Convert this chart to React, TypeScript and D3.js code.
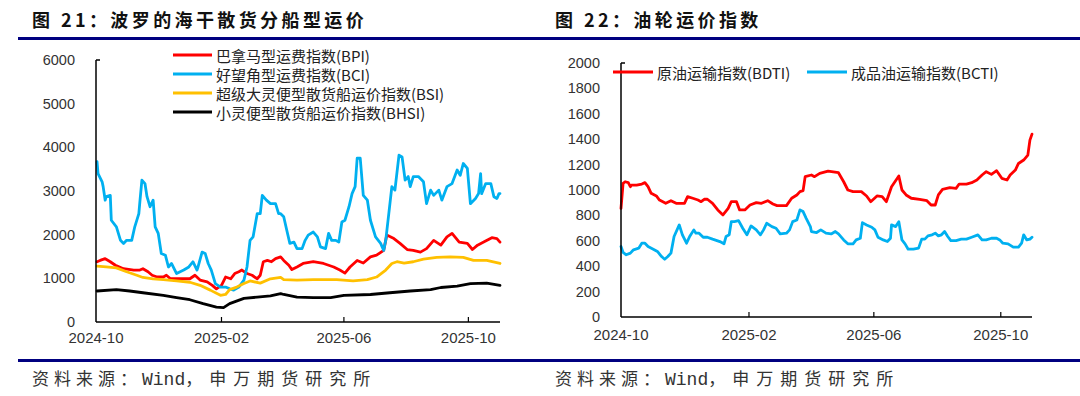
import React from 'react';
import * as d3 from 'd3';

// ---------- Data ----------
const leftYTicks = [0, 1000, 2000, 3000, 4000, 5000, 6000];
const rightYTicks = [0, 200, 400, 600, 800, 1000, 1200, 1400, 1600, 1800, 2000];
const xTickDates = ['2024-10-01', '2025-02-01', '2025-06-01', '2025-10-01'];
const xTickLabels = ['2024-10', '2025-02', '2025-06', '2025-10'];

const leftSeriesNames = ['巴拿马型运费指数(BPI)', '好望角型运费指数(BCI)', '超级大灵便型散货船运价指数(BSI)', '小灵便型散货船运价指数(BHSI)'];
const leftColors = ['#FF0000', '#00B0F0', '#FFC000', '#000000'];
const rightSeriesNames = ['原油运输指数(BDTI)', '成品油运输指数(BCTI)'];
const rightColors = ['#FF0000', '#00B0F0'];

const bpi: [string, number][] = [
  ['2024-10-02', 1380], ['2024-10-05', 1410], ['2024-10-10', 1450], ['2024-10-15', 1380], ['2024-10-20', 1300],
  ['2024-10-28', 1220], ['2024-11-07', 1190], ['2024-11-13', 1190], ['2024-11-16', 1220], ['2024-11-21', 1150],
  ['2024-11-25', 1070], ['2024-11-30', 1030], ['2024-12-06', 1030], ['2024-12-09', 1070], ['2024-12-13', 990],
  ['2024-12-19', 990], ['2025-01-01', 990], ['2025-01-06', 1070], ['2025-01-11', 960], ['2025-01-18', 920],
  ['2025-01-23', 840], ['2025-01-27', 760], ['2025-02-01', 840], ['2025-02-05', 1030], ['2025-02-10', 990],
  ['2025-02-14', 1110], ['2025-02-18', 1150], ['2025-02-21', 1190], ['2025-02-26', 1110], ['2025-03-03', 1070],
  ['2025-03-08', 990], ['2025-03-11', 1070], ['2025-03-14', 1380], ['2025-03-18', 1410], ['2025-03-22', 1380],
  ['2025-03-26', 1450], ['2025-03-31', 1490], ['2025-04-03', 1410], ['2025-04-08', 1300], ['2025-04-11', 1200],
  ['2025-04-16', 1260], ['2025-04-22', 1340], ['2025-05-02', 1380], ['2025-05-12', 1340], ['2025-05-22', 1260],
  ['2025-05-28', 1190], ['2025-06-02', 1120], ['2025-06-07', 1260], ['2025-06-14', 1410], ['2025-06-20', 1350],
  ['2025-06-27', 1490], ['2025-07-03', 1530], ['2025-07-10', 1640], ['2025-07-13', 1990], ['2025-07-20', 1910],
  ['2025-07-26', 1800], ['2025-08-02', 1660], ['2025-08-08', 1640], ['2025-08-15', 1600], ['2025-08-21', 1680],
  ['2025-08-28', 1870], ['2025-09-04', 1760], ['2025-09-10', 1950], ['2025-09-15', 2030], ['2025-09-22', 1830],
  ['2025-09-30', 1800], ['2025-10-05', 1660], ['2025-10-10', 1760], ['2025-10-16', 1830], ['2025-10-24', 1930],
  ['2025-10-29', 1910], ['2025-11-01', 1830],
];

const bci: [string, number][] = [
  ['2024-10-02', 3670], ['2024-10-03', 3400], ['2024-10-07', 3210], ['2024-10-08', 3100], ['2024-10-10', 2790],
  ['2024-10-11', 2870], ['2024-10-15', 2900], ['2024-10-16', 2330], ['2024-10-21', 2180], ['2024-10-25', 1870],
  ['2024-10-28', 1800], ['2024-10-31', 1870], ['2024-11-05', 1870], ['2024-11-08', 2180], ['2024-11-12', 2480],
  ['2024-11-13', 2750], ['2024-11-15', 3250], ['2024-11-18', 3170], ['2024-11-20', 2870], ['2024-11-23', 2640],
  ['2024-11-26', 2790], ['2024-11-28', 2180], ['2024-12-01', 2030], ['2024-12-04', 1570], ['2024-12-08', 1530],
  ['2024-12-11', 1260], ['2024-12-14', 1340], ['2024-12-19', 1110], ['2024-12-26', 1190], ['2024-12-31', 1260],
  ['2025-01-04', 1380], ['2025-01-08', 1190], ['2025-01-09', 1260], ['2025-01-13', 1600], ['2025-01-16', 1570],
  ['2025-01-19', 1340], ['2025-01-22', 1190], ['2025-01-26', 880], ['2025-01-31', 800], ['2025-02-05', 800],
  ['2025-02-09', 760], ['2025-02-13', 730], ['2025-02-18', 800], ['2025-02-23', 960], ['2025-02-26', 1260],
  ['2025-03-01', 1870], ['2025-03-04', 1950], ['2025-03-08', 2480], ['2025-03-11', 2480], ['2025-03-13', 2900],
  ['2025-03-17', 2790], ['2025-03-21', 2710], ['2025-03-26', 2710], ['2025-03-29', 2480], ['2025-03-31', 2480],
  ['2025-04-03', 2410], ['2025-04-06', 2100], ['2025-04-09', 1800], ['2025-04-13', 1830], ['2025-04-16', 1680],
  ['2025-04-21', 1680], ['2025-04-24', 1870], ['2025-04-27', 1990], ['2025-05-02', 2060], ['2025-05-06', 1950],
  ['2025-05-09', 1720], ['2025-05-14', 1680], ['2025-05-17', 2030], ['2025-05-20', 1870], ['2025-05-24', 1870],
  ['2025-05-27', 1830], ['2025-05-30', 2290], ['2025-06-02', 2330], ['2025-06-06', 2640], ['2025-06-09', 2940],
  ['2025-06-12', 3100], ['2025-06-14', 3750], ['2025-06-17', 3750], ['2025-06-20', 2900], ['2025-06-24', 2790],
  ['2025-06-27', 2330], ['2025-07-02', 1950], ['2025-07-07', 1800], ['2025-07-10', 1640], ['2025-07-12', 1870],
  ['2025-07-15', 2480], ['2025-07-18', 3100], ['2025-07-21', 3020], ['2025-07-25', 3820], ['2025-07-28', 3780],
  ['2025-07-31', 3250], ['2025-08-03', 3330], ['2025-08-05', 3100], ['2025-08-08', 3330], ['2025-08-13', 3330],
  ['2025-08-18', 3210], ['2025-08-21', 2710], ['2025-08-25', 3020], ['2025-08-28', 2900], ['2025-09-02', 3020],
  ['2025-09-05', 2790], ['2025-09-10', 3100], ['2025-09-15', 3170], ['2025-09-20', 3480], ['2025-09-23', 3360],
  ['2025-09-26', 3630], ['2025-09-30', 3520], ['2025-10-03', 2710], ['2025-10-08', 2830], ['2025-10-11', 2940],
  ['2025-10-13', 3400], ['2025-10-14', 2940], ['2025-10-18', 3170], ['2025-10-23', 3170], ['2025-10-26', 2870],
  ['2025-10-29', 2830], ['2025-10-31', 2940], ['2025-11-01', 2940],
];

const bsi: [string, number][] = [
  ['2024-10-02', 1280], ['2024-10-11', 1260], ['2024-10-21', 1240], ['2024-10-31', 1150], ['2024-11-10', 1070],
  ['2024-11-16', 1020], ['2024-11-26', 990], ['2024-12-06', 970], ['2024-12-19', 940], ['2025-01-01', 910],
  ['2025-01-11', 840], ['2025-01-21', 730], ['2025-01-31', 610], ['2025-02-05', 630], ['2025-02-09', 740],
  ['2025-02-16', 800], ['2025-02-23', 880], ['2025-03-01', 940], ['2025-03-11', 890], ['2025-03-21', 990],
  ['2025-03-31', 1020], ['2025-04-03', 970], ['2025-04-16', 960], ['2025-05-02', 970], ['2025-05-25', 970],
  ['2025-06-10', 940], ['2025-06-24', 970], ['2025-07-03', 1030], ['2025-07-12', 1190], ['2025-07-18', 1340],
  ['2025-07-23', 1380], ['2025-07-30', 1350], ['2025-08-08', 1380], ['2025-08-18', 1440], ['2025-08-31', 1480],
  ['2025-09-13', 1490], ['2025-09-26', 1480], ['2025-10-06', 1410], ['2025-10-19', 1410], ['2025-11-01', 1340],
];

const bhsi: [string, number][] = [
  ['2024-10-02', 710], ['2024-10-21', 740], ['2024-11-03', 710], ['2024-11-16', 670], ['2024-12-06', 610],
  ['2024-12-19', 560], ['2025-01-01', 510], ['2025-01-14', 420], ['2025-01-27', 340], ['2025-02-03', 330],
  ['2025-02-09', 420], ['2025-02-23', 540], ['2025-03-08', 570], ['2025-03-21', 600], ['2025-03-31', 650],
  ['2025-04-03', 630], ['2025-04-16', 570], ['2025-05-02', 560], ['2025-05-19', 560], ['2025-06-01', 610],
  ['2025-06-27', 630], ['2025-07-16', 670], ['2025-08-05', 710], ['2025-08-25', 740], ['2025-09-04', 790],
  ['2025-09-20', 820], ['2025-10-03', 880], ['2025-10-19', 890], ['2025-11-01', 840],
];

const bdti: [string, number][] = [
  ['2024-10-01', 856], ['2024-10-03', 1052], ['2024-10-05', 1065], ['2024-10-08', 1058], ['2024-10-10', 1026],
  ['2024-10-11', 1039], ['2024-10-16', 1039], ['2024-10-21', 1047], ['2024-10-24', 1058], ['2024-10-27', 1026],
  ['2024-10-30', 974], ['2024-11-04', 953], ['2024-11-07', 921], ['2024-11-13', 895], ['2024-11-18', 916],
  ['2024-11-23', 895], ['2024-12-01', 895], ['2024-12-04', 948], ['2024-12-09', 935], ['2024-12-14', 921],
  ['2024-12-17', 908], ['2024-12-20', 927], ['2024-12-23', 927], ['2024-12-28', 895], ['2025-01-02', 843],
  ['2025-01-07', 804], ['2025-01-12', 856], ['2025-01-15', 908], ['2025-01-20', 908], ['2025-01-23', 843],
  ['2025-01-28', 843], ['2025-02-02', 882], ['2025-02-08', 901], ['2025-02-13', 895], ['2025-02-19', 916],
  ['2025-02-24', 890], ['2025-02-28', 877], ['2025-03-09', 877], ['2025-03-14', 935], ['2025-03-19', 961],
  ['2025-03-22', 987], ['2025-03-25', 995], ['2025-03-27', 1105], ['2025-04-02', 1118], ['2025-04-05', 1105],
  ['2025-04-10', 1131], ['2025-04-18', 1149], ['2025-04-28', 1136], ['2025-05-03', 1065], ['2025-05-07', 1000],
  ['2025-05-12', 987], ['2025-05-20', 987], ['2025-05-25', 953], ['2025-05-29', 908], ['2025-06-04', 953],
  ['2025-06-09', 948], ['2025-06-13', 908], ['2025-06-18', 1026], ['2025-06-25', 1110], ['2025-06-28', 1000],
  ['2025-07-02', 961], ['2025-07-07', 935], ['2025-07-15', 927], ['2025-07-22', 916], ['2025-07-26', 882],
  ['2025-07-30', 882], ['2025-08-02', 961], ['2025-08-06', 1005], ['2025-08-13', 1018], ['2025-08-19', 1013],
  ['2025-08-22', 1047], ['2025-08-29', 1047], ['2025-09-03', 1058], ['2025-09-08', 1079], ['2025-09-13', 1118],
  ['2025-09-17', 1144], ['2025-09-22', 1123], ['2025-09-27', 1152], ['2025-10-02', 1092], ['2025-10-07', 1079],
  ['2025-10-10', 1118], ['2025-10-15', 1157], ['2025-10-18', 1209], ['2025-10-23', 1236], ['2025-10-27', 1275],
  ['2025-10-29', 1393], ['2025-10-31', 1440],
];

const bcti: [string, number][] = [
  ['2024-10-01', 555], ['2024-10-03', 508], ['2024-10-06', 490], ['2024-10-10', 503], ['2024-10-13', 529],
  ['2024-10-18', 542], ['2024-10-21', 581], ['2024-10-24', 581], ['2024-10-27', 555], ['2024-11-01', 534],
  ['2024-11-05', 516], ['2024-11-09', 476], ['2024-11-12', 455], ['2024-11-15', 476], ['2024-11-18', 503],
  ['2024-11-21', 634], ['2024-11-26', 725], ['2024-11-29', 647], ['2024-12-03', 581], ['2024-12-06', 634],
  ['2024-12-10', 686], ['2024-12-12', 660], ['2024-12-15', 660], ['2024-12-19', 628], ['2024-12-23', 628],
  ['2024-12-28', 613], ['2025-01-04', 594], ['2025-01-08', 576], ['2025-01-10', 634], ['2025-01-13', 647],
  ['2025-01-15', 751], ['2025-01-18', 751], ['2025-01-22', 759], ['2025-01-26', 699], ['2025-01-30', 647],
  ['2025-02-03', 717], ['2025-02-08', 686], ['2025-02-12', 647], ['2025-02-15', 686], ['2025-02-18', 738],
  ['2025-02-23', 712], ['2025-02-27', 699], ['2025-03-03', 654], ['2025-03-09', 660], ['2025-03-12', 686],
  ['2025-03-15', 751], ['2025-03-19', 764], ['2025-03-22', 843], ['2025-03-25', 830], ['2025-03-28', 777],
  ['2025-04-01', 712], ['2025-04-02', 673], ['2025-04-07', 665], ['2025-04-11', 686], ['2025-04-16', 660],
  ['2025-04-21', 654], ['2025-04-25', 673], ['2025-04-28', 654], ['2025-05-03', 607], ['2025-05-07', 576],
  ['2025-05-12', 576], ['2025-05-15', 607], ['2025-05-19', 620], ['2025-05-21', 743], ['2025-05-25', 725],
  ['2025-05-30', 707], ['2025-06-02', 686], ['2025-06-05', 628], ['2025-06-10', 607], ['2025-06-14', 594],
  ['2025-06-17', 620], ['2025-06-18', 725], ['2025-06-22', 712], ['2025-06-25', 751], ['2025-06-28', 607],
  ['2025-07-01', 576], ['2025-07-04', 534], ['2025-07-09', 534], ['2025-07-14', 542], ['2025-07-17', 613],
  ['2025-07-20', 613], ['2025-07-23', 639], ['2025-07-27', 647], ['2025-07-30', 660], ['2025-08-02', 639],
  ['2025-08-05', 647], ['2025-08-08', 673], ['2025-08-11', 634], ['2025-08-14', 602], ['2025-08-19', 602],
  ['2025-08-24', 613], ['2025-08-29', 613], ['2025-09-03', 628], ['2025-09-09', 647], ['2025-09-13', 607],
  ['2025-09-17', 607], ['2025-09-22', 620], ['2025-09-27', 620], ['2025-09-30', 607], ['2025-10-03', 581],
  ['2025-10-08', 576], ['2025-10-13', 550], ['2025-10-18', 550], ['2025-10-21', 581], ['2025-10-23', 647],
  ['2025-10-26', 607], ['2025-10-29', 613], ['2025-10-31', 628],
];

const leftSeries = [bpi, bci, bsi, bhsi];
const rightSeries = [bdti, bcti];

// ---------- Rendering ----------
const parse = d3.timeParse('%Y-%m-%d');
const NAVY = '#000080';
const AXIS_FONT = '"Liberation Sans", Arial, sans-serif';
const CJK_FONT = '"Noto Sans CJK SC", "Noto Sans", sans-serif';

type ChartProps = {
  x0: number; x1: number; yTop: number; yBottom: number;
  domainEnd: string; yMax: number; yTicks: number[];
  series: [string, number][][]; colors: string[];
  labelOffset: number;
};

function LineChart(p: ChartProps) {
  const x = d3.scaleTime().domain([parse('2024-10-01')!, parse(p.domainEnd)!]).range([p.x0, p.x1]);
  const y = d3.scaleLinear().domain([0, p.yMax]).range([p.yBottom, p.yTop]);
  const line = d3.line<[string, number]>()
    .x(d => x(parse(d[0])!))
    .y(d => y(d[1]));
  return (
    <g>
      {p.series.map((s, i) => (
        <path key={i} d={line(s) || ''} fill="none" stroke={p.colors[i]} strokeWidth={2.8}
          strokeLinejoin="round" strokeLinecap="round" />
      ))}
      {/* y axis */}
      <line x1={p.x0} x2={p.x0} y1={p.yTop} y2={p.yBottom} stroke="#000" strokeWidth={1.5} />
      <line x1={p.x0} x2={p.x0 + 4} y1={p.yTop} y2={p.yTop} stroke="#000" strokeWidth={1.5} />
      {p.yTicks.map(t => (
        <text key={t} x={p.x0 - 21} y={y(t)} textAnchor="end" dominantBaseline="central"
          fontFamily={AXIS_FONT} fontSize={14.5} fill="#333">{t}</text>
      ))}
      {/* x axis */}
      <line x1={p.x0} x2={p.x1} y1={p.yBottom} y2={p.yBottom} stroke="#000" strokeWidth={1.5} />
      {xTickDates.map((d, i) => (
        <g key={d}>
          {i > 0 && <line x1={x(parse(d)!)} x2={x(parse(d)!)} y1={p.yBottom} y2={p.yBottom - 5} stroke="#000" strokeWidth={1.2} />}
          <text x={x(parse(d)!)} y={p.yBottom + p.labelOffset} textAnchor="middle"
            fontFamily={AXIS_FONT} fontSize={15} fill="#333">{xTickLabels[i]}</text>
        </g>
      ))}
    </g>
  );
}

function Footer({ x }: { x: number }) {
  return (
    <text x={x} y={385} fontSize={17} fill="#333" fontFamily={CJK_FONT}>
      <tspan letterSpacing={5}>资料来源：</tspan>
      <tspan fontFamily='"Liberation Mono", monospace' fontSize={18} letterSpacing={0}>Wind</tspan>
      <tspan letterSpacing={7}>，申万期货研究所</tspan>
    </text>
  );
}

export default function App() {
  return (
    <svg width={1080} height={396} viewBox="0 0 1080 396"
      style={{ position: 'absolute', left: 0, top: 0, background: '#fff' }}>
      <rect width={1080} height={396} fill="#fff" />
      {/* titles */}
      <text x={32} y={27} fontFamily={CJK_FONT} fontWeight={700} fontSize={18} letterSpacing={3.4} fill="#111">图 21：波罗的海干散货分船型运价</text>
      <text x={555} y={27} fontFamily={CJK_FONT} fontWeight={700} fontSize={18} letterSpacing={3.4} fill="#111">图 22：油轮运价指数</text>
      <line x1={18} x2={1080} y1={38.5} y2={38.5} stroke={NAVY} strokeWidth={3} />
      <line x1={18} x2={1080} y1={360.5} y2={360.5} stroke={NAVY} strokeWidth={3} />

      <LineChart x0={96} x1={500} yTop={60} yBottom={322} domainEnd="2025-11-01" yMax={6000}
        yTicks={leftYTicks} series={leftSeries} colors={leftColors} labelOffset={21} />
      <LineChart x0={621} x1={1032} yTop={63} yBottom={317} domainEnd="2025-10-31" yMax={2000}
        yTicks={rightYTicks} series={rightSeries} colors={rightColors} labelOffset={23} />

      {/* left legend */}
      {leftSeriesNames.map((n, i) => {
        const ly = [55, 74, 93, 112][i];
        return (
          <g key={n}>
            <line x1={173} x2={212} y1={ly} y2={ly} stroke={leftColors[i]} strokeWidth={3} />
            <text x={216} y={ly} dominantBaseline="central" fontFamily={CJK_FONT} fontSize={15} fill="#222">{n}</text>
          </g>
        );
      })}
      {/* right legend */}
      {rightSeriesNames.map((n, i) => {
        const lx = [613, 807][i];
        return (
          <g key={n}>
            <line x1={lx} x2={lx + 40} y1={72} y2={72} stroke={rightColors[i]} strokeWidth={3} />
            <text x={lx + 44} y={72} dominantBaseline="central" fontFamily={CJK_FONT} fontSize={15} fill="#222">{n}</text>
          </g>
        );
      })}

      <Footer x={32} />
      <Footer x={555} />
    </svg>
  );
}
